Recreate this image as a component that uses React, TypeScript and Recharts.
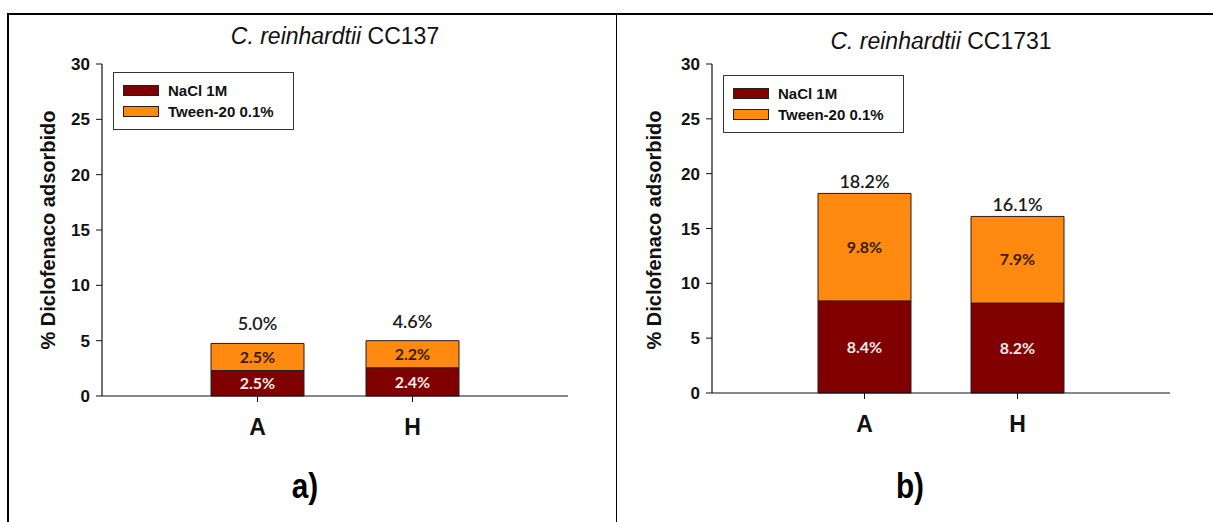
import React from 'react';
import { BarChart, Bar, XAxis, YAxis, LabelList, Legend } from 'recharts';

const CATEGORIES = ['A', 'H'];
const Y_TICKS = [0, 5, 10, 15, 20, 25, 30];

// a) CC137 — heights as drawn, labels as printed
const CC137_NACL = [2.3, 2.55];
const CC137_TWEEN = [2.45, 2.45];
const CC137_NACL_LABELS = ['2.5%', '2.4%'];
const CC137_TWEEN_LABELS = ['2.5%', '2.2%'];
const CC137_TOTAL_LABELS = ['5.0%', '4.6%'];

// b) CC1731
const CC1731_NACL = [8.4, 8.2];
const CC1731_TWEEN = [9.8, 7.9];
const CC1731_NACL_LABELS = ['8.4%', '8.2%'];
const CC1731_TWEEN_LABELS = ['9.8%', '7.9%'];
const CC1731_TOTAL_LABELS = ['18.2%', '16.1%'];

const DARK = '#800000';
const ORANGE = '#ff8a0f';
const ARIAL = '"Liberation Sans", Arial, sans-serif';
const CALIBRI = 'Lato, "Open Sans", sans-serif';

function buildRows(nacl: number[], tween: number[], nl: string[], tl: string[], tot: string[]) {
    return CATEGORIES.map((cat, i) => ({
        cat,
        nacl: nacl[i],
        tween: tween[i],
        naclLabel: nl[i],
        tweenLabel: tl[i],
        totalLabel: tot[i],
    }));
}

const renderLegend = (props: any) => {
    const items = props.payload || [];
    return (
        <div style={{ border: '1px solid #333', background: '#fff', padding: '7px 10px 7px 9px', width: 160, boxSizing: 'content-box' }}>
            {items.map((it: any) => (
                <div key={it.value} style={{ display: 'flex', alignItems: 'center', height: 21 }}>
                    <span style={{ display: 'inline-block', width: 34, height: 9, background: it.color, border: '1px solid #222', marginRight: 9 }} />
                    <span style={{ fontFamily: ARIAL, fontWeight: 'bold', fontSize: 15, color: '#111' }}>{it.value}</span>
                </div>
            ))}
        </div>
    );
};

interface PanelProps {
    left: number;
    width: number;
    title: string;
    titleTop: number;
    rows: any[];
    marginRight: number;
    marginBottom: number;
    pad: number;
    totalOffset: number;
    legendLeft: number;
    legendTop: number;
    yLabelX: number;
    letter: string;
}

function Panel(p: PanelProps) {
    const plotLeft = 102;
    const plotRight = p.width - p.marginRight;
    const [species, strain] = p.title.split(' CC');
    return (
        <div style={{ position: 'absolute', left: p.left, top: 0, width: p.width, height: 522 }}>
            <div style={{ position: 'absolute', left: plotLeft, width: plotRight - plotLeft, top: p.titleTop, textAlign: 'center', fontFamily: ARIAL, fontSize: 23, color: '#111' }}>
                <i>{species}</i> {'CC' + strain}
            </div>
            <div style={{ position: 'absolute', left: p.yLabelX - 150, top: 230 - 13, width: 300, textAlign: 'center', transform: 'rotate(-90deg)', fontFamily: ARIAL, fontWeight: 'bold', fontSize: 20, color: '#111', lineHeight: '26px' }}>
                % Diclofenaco adsorbido
            </div>
            <BarChart
                width={p.width}
                height={470}
                data={p.rows}
                margin={{ top: 64, right: p.marginRight, bottom: p.marginBottom, left: 62 }}
                style={{ position: 'absolute', left: 0, top: 0 }}
            >
                <XAxis
                    dataKey="cat"
                    padding={{ left: p.pad, right: p.pad }}
                    axisLine={{ stroke: '#111', strokeWidth: 1.2 }}
                    tickLine={{ stroke: '#111' }}
                    tickSize={6}
                    tickMargin={17}
                    height={40}
                    tick={{ fill: '#111', fontFamily: ARIAL, fontWeight: 'bold', fontSize: 23 }}
                />
                <XAxis xAxisId="top" orientation="top" dataKey="cat" height={0} tick={false} tickLine={false} axisLine={{ stroke: '#444' }} />
                <YAxis
                    domain={[0, 30]}
                    ticks={Y_TICKS}
                    width={40}
                    axisLine={{ stroke: '#111', strokeWidth: 1.2 }}
                    tickLine={{ stroke: '#111' }}
                    tickSize={6}
                    tickMargin={6}
                    tick={{ fill: '#111', fontFamily: ARIAL, fontWeight: 'bold', fontSize: 17 }}
                />
                <YAxis yAxisId="right" orientation="right" width={0} domain={[0, 30]} tick={false} tickLine={false} axisLine={{ stroke: '#444' }} />
                <Legend
                    layout="vertical"
                    verticalAlign="middle"
                    align="center"
                    content={renderLegend}
                    wrapperStyle={{ left: p.legendLeft, top: p.legendTop, width: 'auto' }}
                />
                <Bar dataKey="nacl" name="NaCl 1M" stackId="s" fill={DARK} stroke="#2a1a1a" strokeWidth={1} barSize={93} isAnimationActive={false}>
                    <LabelList dataKey="naclLabel" position="center" fill="#f6eaea" style={{ fontFamily: CALIBRI, fontWeight: 'bold', fontSize: 16 }} />
                </Bar>
                <Bar dataKey="tween" name="Tween-20 0.1%" stackId="s" fill={ORANGE} stroke="#2a1a1a" strokeWidth={1} barSize={93} isAnimationActive={false}>
                    <LabelList dataKey="tweenLabel" position="center" fill="#3a1c00" style={{ fontFamily: CALIBRI, fontWeight: 'bold', fontSize: 16 }} />
                    <LabelList dataKey="totalLabel" position="top" offset={p.totalOffset} fill="#1a1a1a" style={{ fontFamily: CALIBRI, fontWeight: 600, fontSize: 18 }} />
                </Bar>
            </BarChart>
            <div style={{ position: 'absolute', left: 0, width: p.width, top: 466, textAlign: 'center', fontFamily: '"Liberation Sans Narrow", "Liberation Sans", Arial, sans-serif', fontWeight: 'bold', fontSize: 35, color: '#000', transform: 'scaleX(0.85)' }}>
                {p.letter}
            </div>
        </div>
    );
}

export default function App() {
    const rowsA = buildRows(CC137_NACL, CC137_TWEEN, CC137_NACL_LABELS, CC137_TWEEN_LABELS, CC137_TOTAL_LABELS);
    const rowsB = buildRows(CC1731_NACL, CC1731_TWEEN, CC1731_NACL_LABELS, CC1731_TWEEN_LABELS, CC1731_TOTAL_LABELS);
    return (
        <div style={{ position: 'absolute', left: 0, top: 0, width: 1213, height: 522, background: '#fff', overflow: 'hidden' }}>
            <div style={{ position: 'absolute', left: 7, top: 13, width: 1206, height: 2, background: '#000' }} />
            <div style={{ position: 'absolute', left: 7, top: 13, width: 2, height: 509, background: '#000' }} />
            <div style={{ position: 'absolute', left: 616, top: 13, width: 1, height: 509, background: '#000' }} />
            <Panel left={0} width={610} title="C. reinhardtii CC137" titleTop={23} rows={rowsA} marginRight={42} marginBottom={34}
                pad={78} totalOffset={13} legendLeft={113} legendTop={72} yLabelX={48} letter="a)" />
            <Panel left={610} width={600} title="C. reinhardtii CC1731" titleTop={28} rows={rowsB} marginRight={40} marginBottom={37}
                pad={76} totalOffset={5} legendLeft={113} legendTop={75} yLabelX={44} letter="b)" />
        </div>
    );
}
